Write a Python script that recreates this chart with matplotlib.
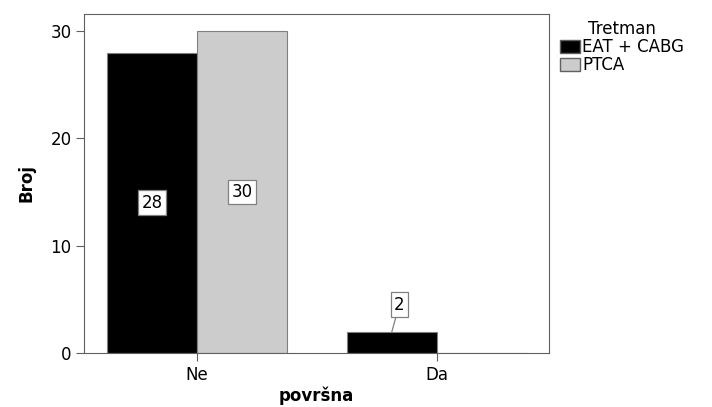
import numpy as np
import matplotlib.pyplot as plt
from matplotlib.patches import Patch

categories = ['Ne', 'Da']
eat_cabg = [28, 2]
ptca = [30, 0]
series_names = ['EAT + CABG', 'PTCA']
colors = ['#000000', '#cccccc']

plt.rcParams['font.family'] = ['DejaVu Sans']

fig = plt.figure(figsize=(7.12, 4.07), dpi=100)
ax = fig.add_axes([84 / 712, 54 / 407, 465 / 712, 339 / 407])

x = np.arange(len(categories))
w = 0.375
b1 = ax.bar(x - w / 2, eat_cabg, w, color=colors[0], edgecolor='#808080', linewidth=0.8)
b2 = ax.bar(x + w / 2, ptca, w, color=colors[1], edgecolor='#808080', linewidth=0.8)

box = dict(boxstyle='square,pad=0.2', fc='white', ec='#808080', lw=0.9)
for bars, vals in ((b1, eat_cabg), (b2, ptca)):
    for rect, v in zip(bars, vals):
        if v == 0:
            continue
        cx = rect.get_x() + rect.get_width() / 2
        if v >= 5:
            ax.text(cx, v / 2, str(v), ha='center', va='center', fontsize=12, bbox=box)
        else:
            ax.annotate(str(v), xy=(cx, v), xytext=(cx + 0.031, v + 2.5),
                        ha='center', va='center', fontsize=12, bbox=box,
                        arrowprops=dict(arrowstyle='-', color='#808080', lw=0.9,
                                        shrinkA=0, shrinkB=0))

ax.set_xlim(-0.47, 1.467)
ax.set_ylim(0, 31.6)
ax.set_xticks(x)
ax.set_xticklabels(categories, fontsize=12)
ax.set_yticks([0, 10, 20, 30])
ax.tick_params(axis='y', labelsize=12, length=6, color='#606060', pad=3)
ax.tick_params(axis='x', length=6, color='#606060', pad=3)
for s in ax.spines.values():
    s.set_color('#606060')
    s.set_linewidth(0.8)

# x label placed by hand so it fits at the bottom edge
fig.text((84 + 465 / 2) / 712, 6 / 407, 'površna', fontsize=12,
         fontweight='bold', ha='center', va='baseline')
ax.set_ylabel('Broj', fontsize=12, fontweight='bold', labelpad=11)

handles = [Patch(facecolor=c, edgecolor='#606060', label=n) for c, n in zip(colors, series_names)]
leg = fig.legend(handles=handles, title='Tretman', loc='upper left',
                 bbox_to_anchor=(547 / 712, 1 - 8 / 407), frameon=False,
                 fontsize=12, title_fontsize=12, handlelength=1.2, handleheight=0.85,
                 handletextpad=0.15, labelspacing=0.0, borderpad=0.25)

fig.savefig('out.png', dpi=100)
